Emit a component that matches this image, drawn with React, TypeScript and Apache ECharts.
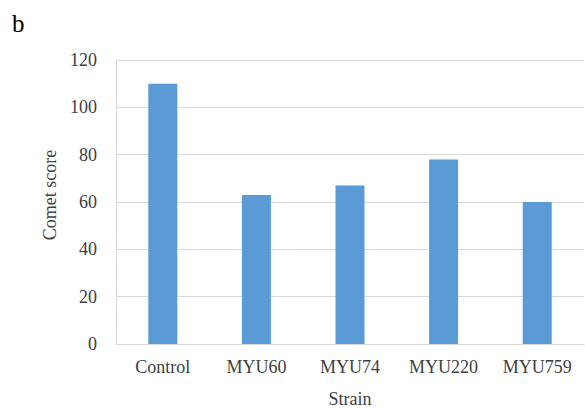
import React, { useEffect, useRef } from "react";
import * as echarts from "echarts";

const categories = ["Control", "MYU60", "MYU74", "MYU220", "MYU759"];
const cometScores = [110, 63, 67, 78, 60];
const yTicks = { min: 0, max: 120, interval: 20 };

const FONT = "'Liberation Serif', 'Times New Roman', serif";
const TEXT = "#404040";
const GRID = "#d9d9d9";

export default function App() {
  const ref = useRef<HTMLDivElement>(null);
  useEffect(() => {
    const el = ref.current!;
    const chart = echarts.init(el, null, { renderer: "svg" });
    chart.setOption({
      animation: false,
      backgroundColor: "#ffffff",
      textStyle: { fontFamily: FONT },
      grid: {
        left: 116,
        right: 1,
        top: 60,
        bottom: 64,
        containLabel: false,
        outerBoundsMode: "none",
      },
      graphic: [
        {
          type: "text",
          left: 12,
          top: 11,
          style: { text: "b", font: `25px ${FONT}`, fill: "#000000" },
        },
      ],
      xAxis: {
        type: "category",
        data: categories,
        name: "Strain",
        nameLocation: "middle",
        nameGap: 46,
        nameTextStyle: { fontFamily: FONT, fontSize: 18, color: TEXT },
        axisLine: { show: true, lineStyle: { color: GRID, width: 1 } },
        axisTick: { show: false },
        axisLabel: { fontFamily: FONT, fontSize: 18, color: TEXT, margin: 14 },
      },
      yAxis: {
        type: "value",
        min: yTicks.min,
        max: yTicks.max,
        interval: yTicks.interval,
        name: "Comet score",
        nameLocation: "middle",
        nameGap: 56,
        nameRotate: 90,
        nameTextStyle: { fontFamily: FONT, fontSize: 18, color: TEXT, padding: [0, 0, 0, 14] },
        axisLine: { show: true, lineStyle: { color: GRID, width: 1 } },
        axisTick: { show: false },
        axisLabel: { fontFamily: FONT, fontSize: 18, color: TEXT, margin: 19 },
        splitLine: { show: true, lineStyle: { color: GRID, width: 1 } },
      },
      series: [
        {
          type: "bar",
          data: cometScores,
          barWidth: 29,
          itemStyle: { color: "#5B9BD5" },
        },
      ],
    });
    return () => chart.dispose();
  }, []);
  return (
    <div
      ref={ref}
      style={{ position: "fixed", left: 0, top: 0, width: 585, height: 408 }}
    />
  );
}
